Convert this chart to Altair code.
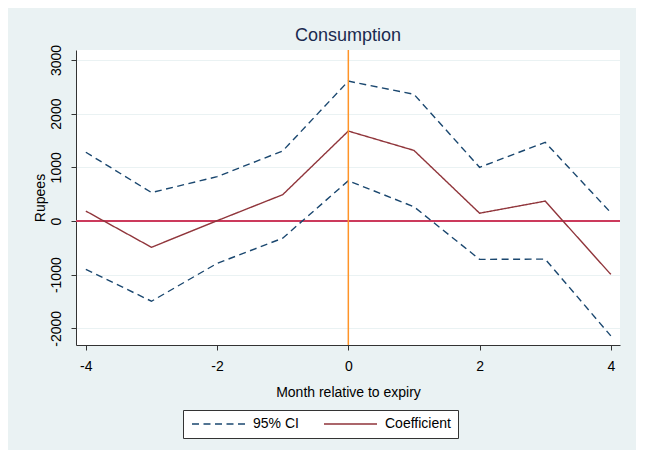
import altair as alt
import pandas as pd

months = [-4, -3, -2, -1, 0, 1, 2, 3, 4]
upper_ci = [1280, 530, 825, 1305, 2605, 2360, 1000, 1465, 155]
coefficient = [185, -490, 5, 490, 1675, 1315, 145, 370, -995]
lower_ci = [-900, -1495, -790, -320, 750, 265, -715, -710, -2140]

rows = []
for m, u, c, l in zip(months, upper_ci, coefficient, lower_ci):
    rows.append({"month": m, "value": u, "series": "95% CI", "line": "upper"})
    rows.append({"month": m, "value": c, "series": "Coefficient", "line": "coef"})
    rows.append({"month": m, "value": l, "series": "95% CI", "line": "lower"})
df = pd.DataFrame(rows)

FONT = "Liberation Sans"
BG = "#eaf2f3"

x_scale = alt.Scale(domain=[-4.15, 4.14], nice=False, zero=False)
y_scale = alt.Scale(domain=[-2310, 3185], nice=False, zero=False)

lines = alt.Chart(df).mark_line(strokeWidth=1.4).encode(
    x=alt.X("month:Q", scale=x_scale,
            axis=alt.Axis(values=[-4, -2, 0, 2, 4], title="Month relative to expiry",
                          labelExpr="'' + datum.value",
                          grid=False, tickSize=5, labelPadding=9, titlePadding=12)),
    y=alt.Y("value:Q", scale=y_scale,
            axis=alt.Axis(values=[-2000, -1000, 0, 1000, 2000, 3000], title="Rupees",
                          labelExpr="'' + datum.value",
                          grid=True, gridColor=BG, gridWidth=1.2, tickSize=5,
                          labelAngle=270, labelAlign="center", labelBaseline="bottom",
                          labelPadding=8, titlePadding=2)),
    color=alt.Color("series:N",
                    scale=alt.Scale(domain=["95% CI", "Coefficient"], range=["#1a476f", "#90353b"]),
                    legend=alt.Legend(title=None, orient="none", legendX=107, legendY=360,
                                      direction="horizontal",
                                      symbolType="M-1,0H9.6", symbolSize=100, symbolStrokeWidth=1.4,
                                      labelFontSize=14, labelFont=FONT, labelColor="#000000",
                                      fillColor="white", strokeColor="#333333", padding=7,
                                      columnPadding=22, labelOffset=49)),
    strokeDash=alt.StrokeDash("series:N",
                              scale=alt.Scale(domain=["95% CI", "Coefficient"], range=[[7, 4.5], [1, 0]]),
                              legend=None),
    detail="line:N",
)

zero_df = pd.DataFrame({"y": [0]})
hline = alt.Chart(zero_df).mark_rule(color="#cc3a5c", strokeWidth=2).encode(y=alt.Y("y:Q", scale=y_scale))
vline_df = pd.DataFrame({"x": [0]})
vline = alt.Chart(vline_df).mark_rule(color="#ff9428", strokeWidth=1.5).encode(x=alt.X("x:Q", scale=x_scale))

chart = alt.layer(hline, lines, vline).properties(
    width=544, height=295,
    title=alt.Title("Consumption", fontSize=18, font=FONT, fontWeight="normal", color="#1a2a4f",
                    anchor="middle", frame="group", offset=-1),
    background=BG,
    padding={"left": 68, "top": 42, "right": 16, "bottom": 105},
    autosize=alt.AutoSizeParams(type="none"),
).configure_view(fill="white", stroke=None).configure_axis(
    labelFont=FONT, titleFont=FONT, labelFontSize=14, titleFontSize=14,
    labelColor="#000000", titleColor="#000000", titleFontWeight="normal",
    domainColor="#333333", tickColor="#333333", domainWidth=1,
)

chart.save("out.html", embed_options={"renderer": "svg", "actions": False})
